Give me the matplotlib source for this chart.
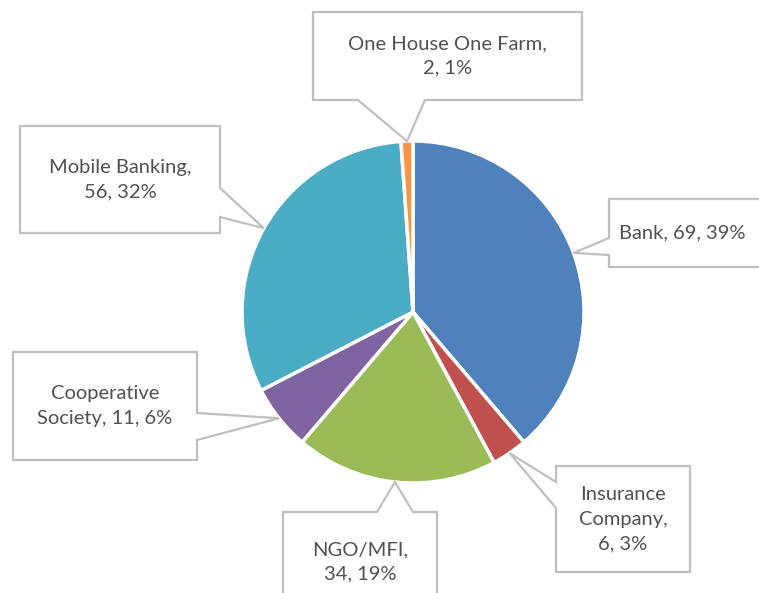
import matplotlib.pyplot as plt
import numpy as np
from matplotlib.patches import Polygon

# Data
sources = ['Bank', 'Insurance Company', 'NGO/MFI', 'Cooperative Society', 'Mobile Banking',
           'One House One Farm']
counts = [69, 6, 34, 11, 56, 2]
colors = ['#4F81BD', '#C0504D', '#9BBB59', '#8064A2', '#4BACC6', '#F79646']

W, H = 759, 593
center = (413, H - 312)
radius = 171

# callout boxes in pixel coords (left, top, right, bottom), side of the pointer, pointer base span
boxes = [
    ((609, 199, 775, 267), 'left', (238, 255)),
    ((556, 466, 690, 572), 'left', (482, 508)),
    ((283, 512, 437, 612), 'top', (377, 413)),
    ((13, 352, 197, 460), 'right', (413, 440)),
    ((20, 126, 220, 233), 'right', (188, 217)),
    ((313, 12, 582, 100), 'bottom', (358, 425)),
]
label_text = [
    'Bank, 69, 39%',
    'Insurance\nCompany,\n6, 3%',
    'NGO/MFI,\n34, 19%',
    'Cooperative\nSociety, 11, 6%',
    'Mobile Banking,\n56, 32%',
    'One House One Farm,\n2, 1%',
]

fig = plt.figure(figsize=(W / 100, H / 100), dpi=100)
ax = fig.add_axes([0, 0, 1, 1])

wedges, _ = ax.pie(counts, colors=colors, startangle=90, counterclock=False,
                   center=center, radius=radius, frame=True,
                   wedgeprops=dict(edgecolor='white', linewidth=2.5))
ax.set_xlim(0, W)
ax.set_ylim(0, H)
ax.set_aspect('equal')
ax.axis('off')


def callout(box, side, base, tip):
    l, t, r, b = box
    t, b = H - t, H - b
    if side == 'left':
        y1, y2 = H - base[0], H - base[1]
        pts = [(l, t), (r, t), (r, b), (l, b), (l, y2), tip, (l, y1)]
    elif side == 'right':
        y1, y2 = H - base[0], H - base[1]
        pts = [(l, t), (r, t), (r, y1), tip, (r, y2), (r, b), (l, b)]
    elif side == 'top':
        x1, x2 = base
        pts = [(l, t), (x1, t), tip, (x2, t), (r, t), (r, b), (l, b)]
    else:
        x1, x2 = base
        pts = [(l, t), (r, t), (r, b), (x2, b), tip, (x1, b), (l, b)]
    ax.add_patch(Polygon(pts, closed=True, facecolor='white', edgecolor='#BFBFBF',
                         linewidth=1.6, zorder=3))


text_style = dict(va='center', fontsize=14.5, color='#505050', family='Lato',
                  linespacing=1.55, zorder=4)

for w, (box, side, base), txt in zip(wedges, boxes, label_text):
    # pointer tip sits on the rim at the middle of the slice
    mid = np.deg2rad((w.theta1 + w.theta2) / 2)
    tip = (center[0] + radius * np.cos(mid), center[1] + radius * np.sin(mid))
    callout(box, side, base, tip)
    cy = H - (box[1] + box[3]) / 2
    if box[2] > W:
        ax.text(box[0] + 10, cy, txt, ha='left', **text_style)
    else:
        ax.text((box[0] + box[2]) / 2, cy, txt, ha='center', **text_style)

fig.savefig('out.png', dpi=100, facecolor='white')
